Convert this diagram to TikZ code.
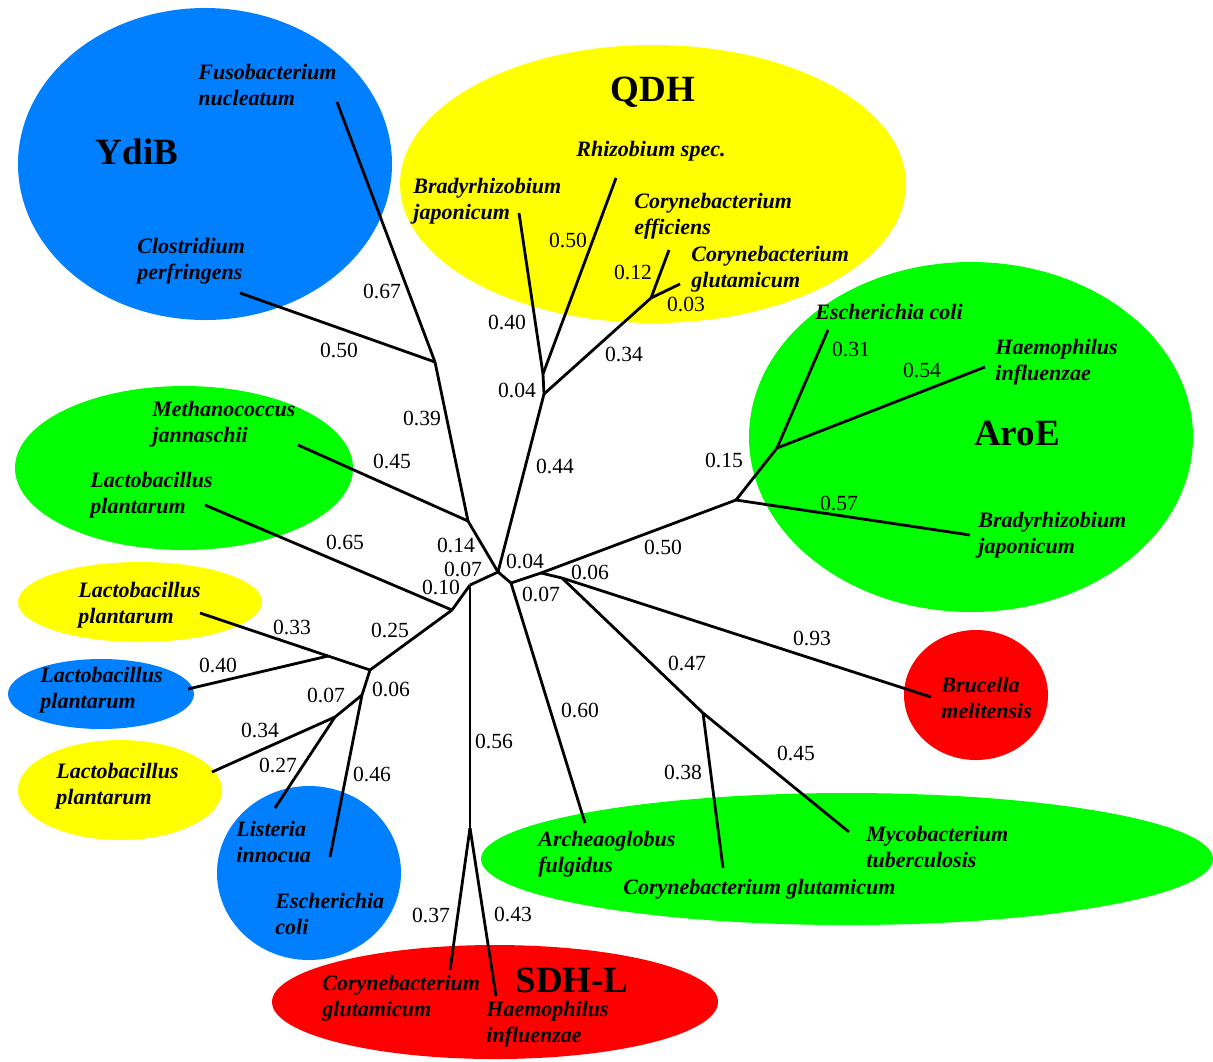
\documentclass[tikz,border=0pt]{standalone}
\usepackage{fontspec}
\setmainfont{Liberation Serif}
\definecolor{cblue}{RGB}{0,128,255}
\definecolor{cyellow}{RGB}{255,255,0}
\definecolor{cgreen}{RGB}{0,255,0}
\definecolor{cred}{RGB}{255,0,0}
\begin{document}
\begin{tikzpicture}[x=0.5pt,y=-0.5pt,
  br/.style={line width=1.4pt},
  tax/.style={font=\fontsize{11}{13}\selectfont\bfseries\itshape, align=left, inner sep=0pt, anchor=west},
  num/.style={font=\fontsize{10.8}{12}\selectfont, inner sep=0pt},
  grp/.style={font=\fontsize{18.5}{20}\selectfont\bfseries, inner sep=0pt},
  blob/.style={draw=none}]
\useasboundingbox (0,0) rectangle (1213,1061);
% group ellipses
\fill[cblue]   (205,164) ellipse [x radius=187, y radius=156];
\fill[cyellow] (653,184) ellipse [x radius=253, y radius=139];
\fill[cgreen]  (971,437) ellipse [x radius=222, y radius=175];
\fill[cgreen]  (184,468) ellipse [x radius=169, y radius=82];
\fill[cyellow] (140,602) ellipse [x radius=122, y radius=40];
\fill[cblue]   (101,694) ellipse [x radius=93, y radius=35];
\fill[cyellow] (120,790) ellipse [x radius=102, y radius=50];
\fill[cblue]   (309,873) ellipse [x radius=92, y radius=87];
\fill[cred]    (976,695) ellipse [x radius=72, y radius=65];
\fill[cgreen]  (847,859) ellipse [x radius=366, y radius=66];
\fill[cred]    (495,1002) ellipse [x radius=223, y radius=57];
% group names
\node[grp] (ydib) at (137,152) {YdiB};
\node[grp] (qdh)  at (653,92) {QDH};
\node[grp] (aroe) at (1017,433) {AroE};
\node[grp] (sdhl) at (572,980) {SDH-L};
% taxon labels
\node[tax] (fusoT) at (198,85)  {Fusobacterium\\nucleatum};
\node[tax] (closT) at (137,261) {Clostridium\\perfringens};
\node[tax] (rhizT) at (576,151) {Rhizobium spec.};
\node[tax] (brjT)  at (413,201) {Bradyrhizobium\\japonicum};
\node[tax] (ceffT) at (634,216) {Corynebacterium\\efficiens};
\node[tax] (cgluT) at (691,269) {Corynebacterium\\glutamicum};
\node[tax] (aecT)  at (815,312) {Escherichia coli};
\node[tax] (ahiT)  at (995,362) {Haemophilus\\influenzae};
\node[tax] (abjT)  at (978,535) {Bradyrhizobium\\japonicum};
\node[tax] (methT) at (152,424) {Methanococcus\\jannaschii};
\node[tax] (lpgT)  at (90,495)  {Lactobacillus\\plantarum};
\node[tax] (lp1T)  at (78,605)  {Lactobacillus\\plantarum};
\node[tax] (lp2T)  at (40,690)  {Lactobacillus\\plantarum};
\node[tax] (lp3T)  at (56,786)  {Lactobacillus\\plantarum};
\node[tax] (listT) at (236,842) {Listeria\\innocua};
\node[tax] (ecolT) at (275,914) {Escherichia\\coli};
\node[tax] (bruT)  at (941,698) {Brucella\\melitensis};
\node[tax] (archT) at (538,854) {Archeaoglobus\\fulgidus};
\node[tax] (cgT)   at (623,889) {Corynebacterium glutamicum};
\node[tax] (mycT)  at (866,847) {Mycobacterium\\tuberculosis};
\node[tax] (scT)   at (322,998) {Corynebacterium\\glutamicum};
\node[tax] (shT)   at (486,1024) {Haemophilus\\influenzae};
% tree vertices
\coordinate (A) at (435,362);
\coordinate (fuso) at (337,102);
\coordinate (clos) at (240,293);
\coordinate (M) at (468,521);
\coordinate (meth) at (298,445);
\coordinate (C1) at (498,572);
\coordinate (Q0) at (544,394);
\coordinate (Qj) at (543,374);
\coordinate (brj) at (519,213);
\coordinate (rhiz) at (616,178);
\coordinate (Q2) at (651,298);
\coordinate (ceff) at (669,250);
\coordinate (cglu) at (680,284);
\coordinate (L) at (470,585);
\coordinate (L2) at (452,610);
\coordinate (lpg) at (205,505);
\coordinate (P) at (370,670);
\coordinate (P1) at (328,656);
\coordinate (lp1) at (200,613);
\coordinate (lp2) at (188,689);
\coordinate (P2) at (362,695);
\coordinate (P3) at (335,717);
\coordinate (lp3) at (212,772);
\coordinate (list) at (275,808);
\coordinate (ecol) at (330,857);
\coordinate (S) at (470,828);
\coordinate (sc) at (450,970);
\coordinate (sh) at (496,996);
\coordinate (R) at (511,583);
\coordinate (R2) at (541,573);
\coordinate (R3) at (562,578);
\coordinate (Ar) at (736,500);
\coordinate (Ar2) at (777,448);
\coordinate (aec) at (828,330);
\coordinate (ahi) at (985,367);
\coordinate (abj) at (970,535);
\coordinate (bru) at (931,697);
\coordinate (Q) at (703,713);
\coordinate (cg) at (723,868);
\coordinate (myc) at (849,832);
\coordinate (arch) at (585,823);
% branches
\draw[br] (fuso) -- (A);
\draw[br] (clos) -- (A);
\draw[br] (A) -- (M);
\draw[br] (meth) -- (M);
\draw[br] (M) -- (C1);
\draw[br] (C1) -- (Q0);
\draw[br] (Q0) -- (Qj);
\draw[br] (Qj) -- (brj);
\draw[br] (Qj) -- (rhiz);
\draw[br] (Q0) -- (Q2);
\draw[br] (Q2) -- (ceff);
\draw[br] (Q2) -- (cglu);
\draw[br] (C1) -- (L);
\draw[br] (L) -- (L2);
\draw[br] (lpg) -- (L2);
\draw[br] (L2) -- (P);
\draw[br] (P) -- (P1);
\draw[br] (P1) -- (lp1);
\draw[br] (P1) -- (lp2);
\draw[br] (P) -- (P2);
\draw[br] (P2) -- (P3);
\draw[br] (P3) -- (lp3);
\draw[br] (P3) -- (list);
\draw[br] (P2) -- (ecol);
\draw[br] (L) -- (S);
\draw[br] (S) -- (sc);
\draw[br] (S) -- (sh);
\draw[br] (C1) -- (R);
\draw[br] (R) -- (R2);
\draw[br] (R2) -- (Ar);
\draw[br] (Ar) -- (Ar2);
\draw[br] (Ar2) -- (aec);
\draw[br] (Ar2) -- (ahi);
\draw[br] (Ar) -- (abj);
\draw[br] (R2) -- (R3);
\draw[br] (R3) -- (bru);
\draw[br] (R3) -- (Q);
\draw[br] (Q) -- (cg);
\draw[br] (Q) -- (myc);
\draw[br] (R) -- (arch);
% branch lengths
\node[num] (n1) at (382,291) {0.67};
\node[num] (n2) at (339,350) {0.50};
\node[num] (n3) at (422,418) {0.39};
\node[num] (n4) at (392,461) {0.45};
\node[num] (n5) at (345,542) {0.65};
\node[num] (n6) at (456,545) {0.14};
\node[num] (n7) at (463,569) {0.07};
\node[num] (n8) at (441,587) {0.10};
\node[num] (n9) at (525,561) {0.04};
\node[num] (n10) at (541,594) {0.07};
\node[num] (n11) at (590,572) {0.06};
\node[num] (n12) at (555,466) {0.44};
\node[num] (n13) at (517,390) {0.04};
\node[num] (n14) at (507,322) {0.40};
\node[num] (n15) at (568,240) {0.50};
\node[num] (n16) at (633,272) {0.12};
\node[num] (n17) at (686,304) {0.03};
\node[num] (n18) at (624,354) {0.34};
\node[num] (n19) at (851,349) {0.31};
\node[num] (n20) at (922,370) {0.54};
\node[num] (n21) at (724,460) {0.15};
\node[num] (n22) at (839,503) {0.57};
\node[num] (n23) at (663,547) {0.50};
\node[num] (n24) at (812,638) {0.93};
\node[num] (n25) at (687,663) {0.47};
\node[num] (n26) at (580,710) {0.60};
\node[num] (n27) at (796,753) {0.45};
\node[num] (n28) at (683,772) {0.38};
\node[num] (n29) at (494,741) {0.56};
\node[num] (n30) at (292,627) {0.33};
\node[num] (n31) at (390,630) {0.25};
\node[num] (n32) at (218,665) {0.40};
\node[num] (n33) at (326,695) {0.07};
\node[num] (n34) at (391,689) {0.06};
\node[num] (n35) at (260,730) {0.34};
\node[num] (n36) at (278,765) {0.27};
\node[num] (n37) at (372,774) {0.46};
\node[num] (n38) at (431,915) {0.37};
\node[num] (n39) at (513,914) {0.43};
\end{tikzpicture}
\end{document}
